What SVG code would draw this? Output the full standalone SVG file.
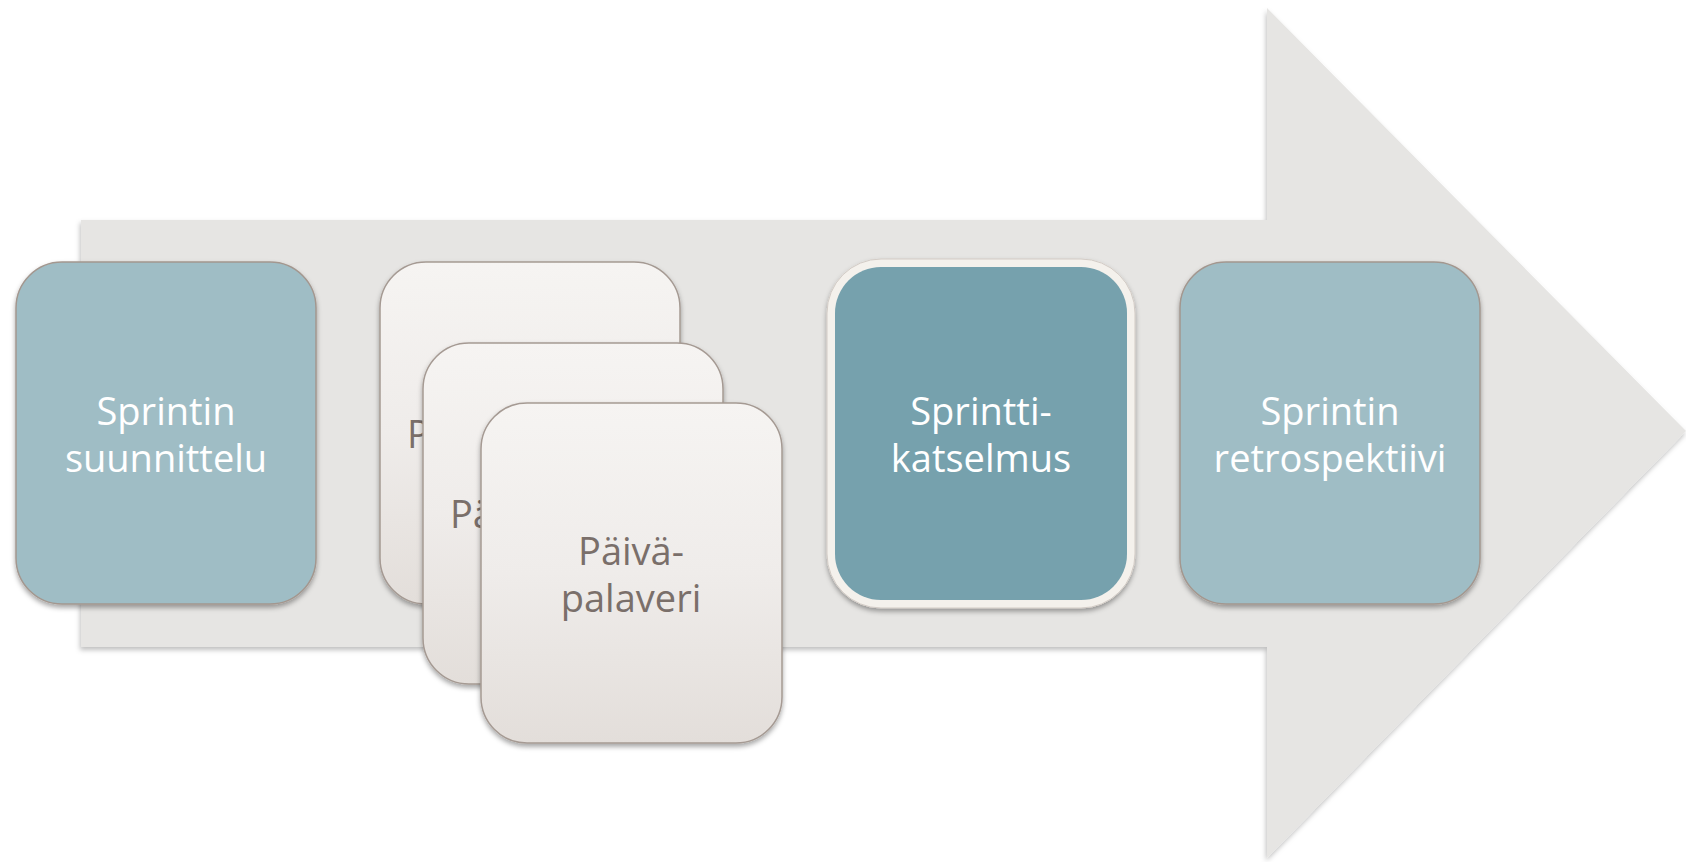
<svg xmlns="http://www.w3.org/2000/svg" width="1686" height="862" viewBox="0 0 1686 862">
  <defs>
    <filter id="shadow" x="-10%" y="-10%" width="120%" height="125%">
      <feDropShadow dx="0" dy="3" stdDeviation="2.5" flood-color="#000" flood-opacity="0.35"/>
    </filter>
    <filter id="arrowShadow" x="-5%" y="-5%" width="110%" height="110%">
      <feDropShadow dx="-1" dy="3" stdDeviation="2.5" flood-color="#000" flood-opacity="0.25"/>
    </filter>
    <linearGradient id="cream" x1="0" y1="0" x2="0" y2="1">
      <stop offset="0" stop-color="#f6f4f2"/>
      <stop offset="0.5" stop-color="#efecea"/>
      <stop offset="1" stop-color="#e3deda"/>
    </linearGradient>
  </defs>
  <style>
    .teal { fill: #9fbdc5; stroke: #a3978f; stroke-width: 1.5; }
    .tealDark { fill: #76a1ad; }
    .card { fill: url(#cream); stroke: #a59a93; stroke-width: 1.5; }
    .lbl { font-family: "Open Sans", "Noto Sans", sans-serif; font-size: 38px; text-anchor: middle; }
    .start { text-anchor: start; }
    .white { fill: #ffffff; }
    .gray { fill: #7a6f6a; }
  </style>

  <rect width="1686" height="862" fill="#ffffff"/>

  <g id="background-arrow">
    <path d="M81,220 L1267,220 L1267,8 L1686,431 L1267,858 L1267,647 L81,647 Z" fill="#e6e5e3" filter="url(#arrowShadow)"/>
  </g>

  <g id="node-suunnittelu">
    <rect class="teal" x="16" y="262" width="300" height="342" rx="46" ry="46" filter="url(#shadow)"/>
    <text class="lbl white" x="166" y="425">Sprintin</text>
    <text class="lbl white" x="166" y="472">suunnittelu</text>
  </g>

  <g id="node-paivapalaveri-1">
    <rect class="card" x="380" y="262" width="300" height="342" rx="46" ry="46" filter="url(#shadow)"/>
    <text class="lbl gray start" x="407" y="448">P</text>
  </g>

  <g id="node-paivapalaveri-2">
    <rect class="card" x="423" y="343" width="300" height="341" rx="46" ry="46" filter="url(#shadow)"/>
    <text class="lbl gray start" x="450" y="528">Pä</text>
  </g>

  <g id="node-paivapalaveri-3">
    <rect class="card" x="481" y="403" width="301" height="340" rx="46" ry="46" filter="url(#shadow)"/>
    <text class="lbl gray" x="631" y="565">Päivä-</text>
    <text class="lbl gray" x="631" y="612">palaveri</text>
  </g>

  <g id="node-katselmus">
    <rect x="827" y="259" width="308" height="349" rx="54" ry="54" fill="#f4f1ec" stroke="#d2cbc5" stroke-width="1" filter="url(#shadow)"/>
    <rect class="tealDark" x="835" y="267" width="292" height="333" rx="46" ry="46"/>
    <text class="lbl white" x="981" y="425">Sprintti-</text>
    <text class="lbl white" x="981" y="472">katselmus</text>
  </g>

  <g id="node-retrospektiivi">
    <rect class="teal" x="1180" y="262" width="300" height="342" rx="46" ry="46" filter="url(#shadow)"/>
    <text class="lbl white" x="1330" y="425">Sprintin</text>
    <text class="lbl white" x="1330" y="472">retrospektiivi</text>
  </g>

  <g id="connectors"></g>
</svg>
